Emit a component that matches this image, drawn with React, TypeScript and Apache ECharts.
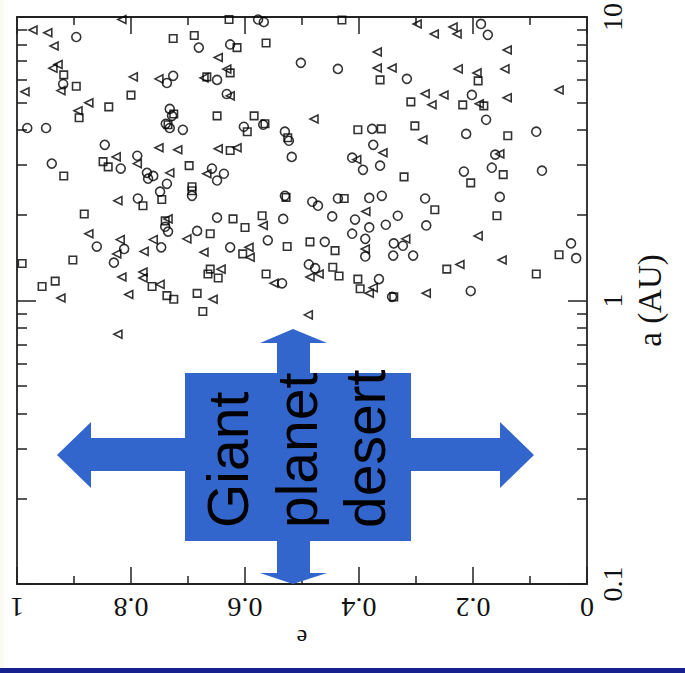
import React, { useEffect, useRef } from 'react';
import * as echarts from 'echarts';

// [e, a(AU)]
const triangles: number[][] = [
  [0.972, 9.0], [0.946, 8.8], [0.816, 9.8], [0.647, 7.2], [0.935, 7.9], [0.937, 6.6], [0.928, 6.8],
  [0.923, 5.5], [0.986, 5.45], [0.796, 6.15], [0.751, 6.05], [0.672, 6.1], [0.632, 6.55], [0.626, 5.27],
  [0.874, 4.98], [0.893, 4.67], [0.826, 3.21], [0.789, 3.04], [0.751, 3.46], [0.718, 3.4], [0.647, 3.43],
  [0.614, 3.46], [0.732, 2.82], [0.667, 2.8], [0.823, 2.25], [0.874, 1.72], [0.819, 1.64], [0.825, 1.46],
  [0.777, 1.49], [0.761, 1.64], [0.735, 1.94], [0.702, 1.65], [0.568, 1.84], [0.672, 1.48], [0.593, 1.54],
  [0.591, 1.42], [0.923, 1.02], [0.816, 1.21], [0.779, 1.26], [0.779, 1.2], [0.749, 1.14], [0.804, 1.05],
  [0.656, 1.01], [0.642, 1.29], [0.549, 1.15], [0.298, 9.45], [0.235, 9.22], [0.228, 8.71], [0.268, 8.71],
  [0.368, 7.53], [0.368, 6.61], [0.342, 6.61], [0.226, 6.56], [0.193, 6.35], [0.14, 7.65], [0.144, 6.56],
  [0.049, 5.53], [0.284, 5.36], [0.251, 5.31], [0.272, 4.9], [0.189, 4.94], [0.14, 5.19], [0.479, 4.37],
  [0.288, 3.69], [0.358, 3.32], [0.404, 3.14], [0.153, 3.29], [0.388, 2.06], [0.191, 1.69], [0.389, 1.52],
  [0.318, 1.65], [0.149, 1.39], [0.486, 1.21], [0.47, 1.24], [0.382, 1.06], [0.375, 1.11], [0.282, 1.06],
  [0.223, 1.34], [0.489, 0.89], [0.823, 0.76]
];

const squares: number[][] = [
  [0.726, 8.4], [0.689, 8.6], [0.614, 7.8], [0.628, 9.8], [0.563, 8.1], [0.918, 6.25], [0.896, 5.7],
  [0.667, 6.15], [0.626, 6.35], [0.8, 5.3], [0.839, 4.82], [0.891, 4.41], [0.725, 4.55], [0.735, 4.17],
  [0.649, 4.48], [0.584, 4.48], [0.565, 4.2], [0.596, 3.94], [0.525, 3.75], [0.849, 3.09], [0.84, 2.96],
  [0.626, 3.38], [0.918, 2.75], [0.698, 2.99], [0.746, 2.27], [0.693, 2.52], [0.693, 2.44], [0.779, 2.16],
  [0.528, 2.31], [0.882, 2.02], [0.74, 1.91], [0.661, 1.72], [0.621, 1.94], [0.6, 1.81], [0.57, 1.99],
  [0.604, 1.46], [0.526, 1.55], [0.902, 1.39], [0.991, 1.35], [0.956, 1.12], [0.933, 1.17], [0.763, 1.12],
  [0.737, 1.04], [0.725, 1.01], [0.684, 1.06], [0.674, 0.915], [0.665, 1.24], [0.661, 1.29], [0.647, 1.2],
  [0.563, 1.24], [0.43, 9.76], [0.363, 6.0], [0.191, 5.95], [0.309, 5.02], [0.218, 4.9], [0.181, 4.86],
  [0.402, 4.0], [0.361, 4.03], [0.302, 4.13], [0.139, 3.81], [0.321, 2.73], [0.204, 2.6], [0.147, 2.78],
  [0.426, 2.29], [0.267, 2.09], [0.158, 1.99], [0.486, 1.61], [0.442, 1.5], [0.049, 1.45], [0.446, 1.31],
  [0.435, 1.22], [0.402, 1.19], [0.398, 1.1], [0.339, 1.03], [0.246, 1.29], [0.089, 1.24]
];

const circles: number[][] = [
  [0.896, 8.5], [0.681, 7.8], [0.626, 8.0], [0.577, 9.8], [0.567, 9.6], [0.919, 5.8], [0.737, 5.85],
  [0.726, 6.2], [0.649, 6.0], [0.632, 5.35], [0.732, 4.74], [0.728, 4.48], [0.739, 4.2], [0.732, 4.06],
  [0.709, 4.0], [0.568, 4.17], [0.602, 4.1], [0.53, 3.94], [0.523, 3.66], [0.518, 3.21], [0.502, 6.89],
  [0.982, 4.06], [0.949, 4.06], [0.846, 3.54], [0.818, 2.92], [0.789, 3.24], [0.939, 3.04], [0.772, 2.82],
  [0.761, 2.75], [0.77, 2.69], [0.737, 2.58], [0.749, 2.42], [0.693, 2.34], [0.658, 2.92], [0.649, 2.65],
  [0.637, 2.8], [0.788, 2.29], [0.86, 1.55], [0.812, 1.52], [0.83, 1.36], [0.747, 1.54], [0.74, 1.82],
  [0.735, 1.75], [0.684, 1.76], [0.649, 1.96], [0.533, 1.94], [0.626, 1.54], [0.56, 1.63], [0.535, 1.15],
  [0.186, 9.45], [0.174, 8.65], [0.437, 6.56], [0.316, 6.05], [0.202, 5.31], [0.177, 4.34], [0.377, 4.03],
  [0.212, 3.87], [0.089, 3.94], [0.375, 3.54], [0.412, 3.19], [0.393, 2.89], [0.363, 2.99], [0.216, 2.85],
  [0.161, 3.27], [0.167, 2.94], [0.079, 2.87], [0.482, 2.23], [0.472, 2.16], [0.437, 2.29], [0.382, 2.3],
  [0.36, 2.34], [0.284, 2.29], [0.153, 2.32], [0.447, 1.98], [0.407, 1.93], [0.412, 1.72], [0.382, 1.81],
  [0.353, 1.85], [0.332, 1.99], [0.282, 1.84], [0.46, 1.61], [0.389, 1.65], [0.389, 1.43], [0.339, 1.59],
  [0.323, 1.56], [0.34, 1.44], [0.305, 1.44], [0.028, 1.59], [0.019, 1.41], [0.488, 1.34], [0.477, 1.3],
  [0.365, 1.19], [0.342, 1.03], [0.204, 1.08], [0.53, 2.34]
];

const aMajorTicks = [0.1, 1, 10];
const aMinorTicks = [0.2, 0.3, 0.4, 0.5, 0.6, 0.7, 0.8, 0.9, 2, 3, 4, 5, 6, 7, 8, 9];
const desertLines = ['Giant', 'planet', 'desert'];

const AXIS = '#222';
const SERIF = 'Liberation Serif';
const SANS = 'Liberation Sans';
const BLUE = '#3366cc';

export default function App() {
  const ref = useRef<HTMLDivElement>(null);
  useEffect(() => {
    document.body.style.margin = '0';
    if (!ref.current) return;
    const chart = echarts.init(ref.current, undefined, { renderer: 'svg' });

    const eAxisBase = (pos: 'bottom' | 'top', labels: boolean) => ({
      type: 'value', position: pos, min: 0, max: 1, interval: 0.2, inverse: true,
      gridIndex: 0,
      axisLine: { show: true, onZero: false, lineStyle: { color: AXIS, width: 1.8 } },
      axisTick: { show: true, inside: true, length: 17, lineStyle: { color: AXIS, width: 1.5 } },
      minorTick: { show: true, splitNumber: 2, length: 8, lineStyle: { color: AXIS, width: 1.5 } },
      splitLine: { show: false }, minorSplitLine: { show: false },
      axisLabel: labels
        ? { show: true, rotate: 180, margin: 9, fontFamily: SERIF, fontSize: 28, color: '#111',
            showMinLabel: true, showMaxLabel: true, hideOverlap: false }
        : { show: false },
    });

    const aAxis = (pos: 'left' | 'right', major: boolean, labels: boolean) => ({
      type: 'log', logBase: 10, min: 0.1, max: 10, position: pos, gridIndex: 0,
      axisLine: { show: major, onZero: false, lineStyle: { color: AXIS, width: 1.8 } },
      axisTick: {
        show: true, inside: true, length: major ? 19 : 10,
        customValues: major ? aMajorTicks : aMinorTicks,
        lineStyle: { color: AXIS, width: 1.5 },
      },
      splitLine: { show: false },
      axisLabel: labels
        ? { show: true, rotate: 90, margin: 11, fontFamily: SERIF, fontSize: 28, color: '#111',
            customValues: aMajorTicks, showMinLabel: true, showMaxLabel: true, hideOverlap: false }
        : { show: false },
    });

    const xMain: any = eAxisBase('bottom', true);
    xMain.name = 'e';
    xMain.nameLocation = 'middle';
    xMain.nameGap = 32;
    xMain.nameRotate = 180;
    xMain.nameTextStyle = { fontFamily: SERIF, fontSize: 24, color: '#111' };

    const yMain: any = aAxis('right', true, true);
    yMain.name = 'a (AU)';
    yMain.nameLocation = 'middle';
    yMain.nameRotate = 90;
    yMain.nameGap = 45;
    yMain.nameTextStyle = { fontFamily: SERIF, fontSize: 33, color: '#111' };

    const markerStyle = { color: 'rgba(0,0,0,0)', borderColor: '#000', borderWidth: 1.6 };

    const option: any = {
      animation: false,
      backgroundColor: '#ffffff',
      grid: { left: 17, top: 16, width: 570, height: 568, containLabel: false },
      xAxis: [xMain, eAxisBase('top', false)],
      yAxis: [yMain, aAxis('right', false, false), aAxis('left', true, false), aAxis('left', false, false)],
      series: [
        { type: 'scatter', name: 'triangles', data: triangles, xAxisIndex: 0, yAxisIndex: 0,
          symbol: 'triangle', symbolSize: [8, 8], symbolRotate: 90, itemStyle: markerStyle, silent: true },
        { type: 'scatter', name: 'squares', data: squares, xAxisIndex: 0, yAxisIndex: 0,
          symbol: 'rect', symbolSize: 7.5, itemStyle: markerStyle, silent: true },
        { type: 'scatter', name: 'circles', data: circles, xAxisIndex: 0, yAxisIndex: 0,
          symbol: 'circle', symbolSize: 9, itemStyle: markerStyle, silent: true },
      ],
      graphic: [
        { type: 'rect', z: 1, shape: { x: 0, y: 0, width: 4, height: 668 }, style: { fill: '#fbfaf0' }, silent: true },
        { type: 'rect', z: 100, shape: { x: 0, y: 668, width: 685, height: 5 }, style: { fill: '#16208e' }, silent: true },
        { type: 'polygon', z: 100, silent: true,
          shape: { points: [[57, 455], [91, 422], [91, 438], [500, 438], [500, 422], [534, 455], [500, 488], [500, 471], [91, 471], [91, 488]] },
          style: { fill: BLUE } },
        { type: 'polygon', z: 100, silent: true,
          shape: { points: [[293, 329], [327, 343], [310, 343], [310, 573], [327, 573], [293, 584], [260, 573], [277, 573], [277, 343], [260, 343]] },
          style: { fill: BLUE } },
        { type: 'rect', z: 100, silent: true, shape: { x: 185, y: 373, width: 226, height: 168 }, style: { fill: BLUE } },
        ...desertLines.map((t, i) => ({
          type: 'text', z: 101, silent: true, x: 228 + i * 68.5, y: 528, rotation: Math.PI / 2,
          style: { text: t, fontFamily: SANS, fontSize: 57, fill: '#000', textAlign: 'left', textVerticalAlign: 'middle',
                   align: 'left', verticalAlign: 'middle' },
        })),
      ],
    };
    chart.setOption(option);
    return () => chart.dispose();
  }, []);
  return <div ref={ref} style={{ width: 685, height: 673 }} />;
}
